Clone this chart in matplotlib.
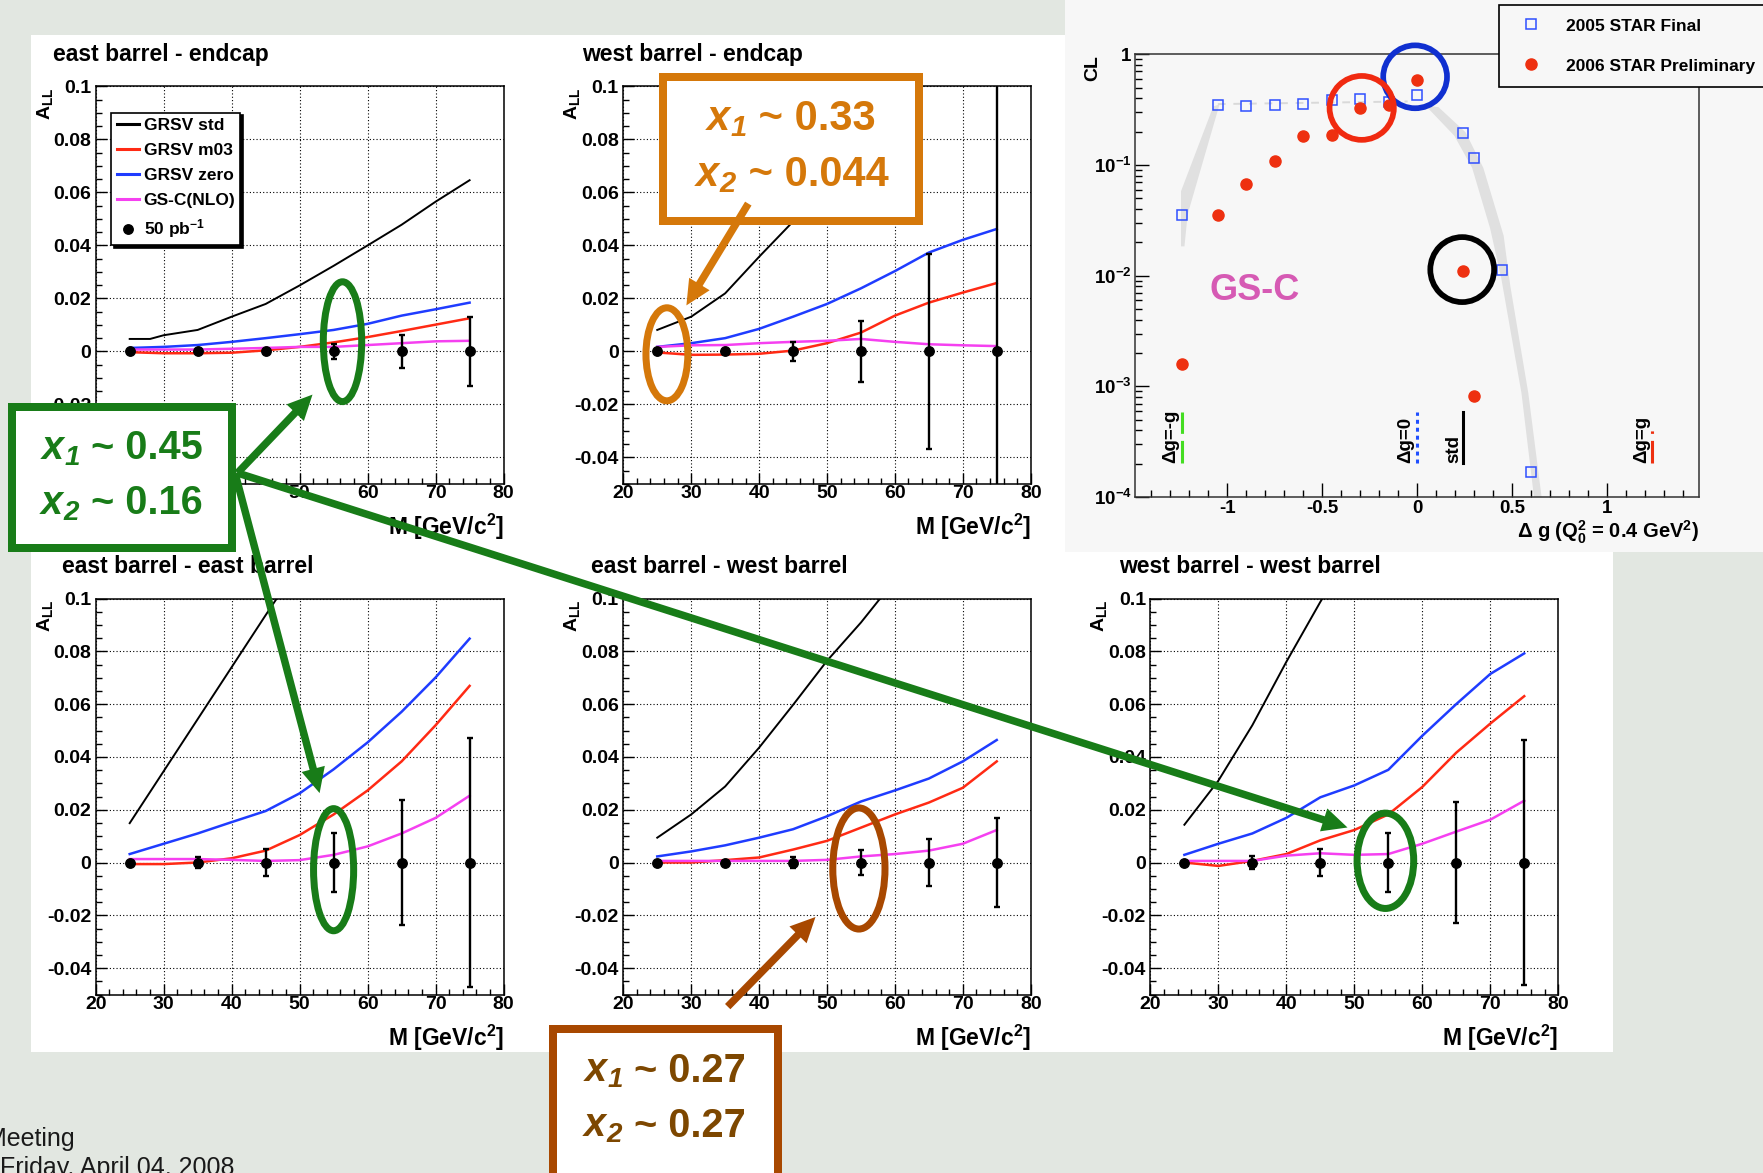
import matplotlib
matplotlib.use("Agg")
import numpy as np
import matplotlib.pyplot as plt
from matplotlib.patches import Rectangle, Ellipse, Polygon
from matplotlib.lines import Line2D
from matplotlib.ticker import MultipleLocator, FixedLocator, FixedFormatter, FuncFormatter, LogLocator, NullFormatter

plt.rcParams["font.family"] = ["Liberation Sans", "DejaVu Sans"]
plt.rcParams["font.weight"] = "bold"
plt.rcParams["mathtext.default"] = "regular"

# ---------------- data: A_LL vs di-jet invariant mass ----------------
M_BINS = [25, 35, 45, 55, 65, 75]
A_LL_MEAS = [0, 0, 0, 0, 0, 0]
M_THEORY = [25, 30, 35, 40, 45, 50, 55, 60, 65, 70, 75]

ALL_TICKS = [-0.04, -0.02, 0, 0.02, 0.04, 0.06, 0.08, 0.1]
ALL_TICK_LABELS = ["-0.04", "-0.02", "0", "0.02", "0.04", "0.06", "0.08", "0.1"]
M_TICKS = [20, 30, 40, 50, 60, 70, 80]
M_TICK_LABELS = ["20", "30", "40", "50", "60", "70", "80"]

SERIES_LABELS = ["GRSV std", "GRSV m03", "GRSV zero", "GS-C(NLO)"]
DATA_LABEL = "50 pb$^{-1}$"

# east barrel - endcap
EBEC_ERR = [0.0, 0.0, 0.0, 0.0027, 0.0062, 0.013]
EBEC_STD_M = [25, 28, 30, 35, 40, 45, 50, 55, 60, 65, 70, 75]
EBEC_STD = [0.0047, 0.0047, 0.0061, 0.0081, 0.0131, 0.0179, 0.0249, 0.0323, 0.0400, 0.0478, 0.0565, 0.0646]
EBEC_M03 = [-0.0003, -0.0007, -0.0007, -0.0005, 0.0004, 0.0017, 0.0034, 0.0054, 0.0077, 0.0101, 0.0125]
EBEC_ZERO = [0.0013, 0.0017, 0.0024, 0.0036, 0.0050, 0.0065, 0.0081, 0.0104, 0.0135, 0.0159, 0.0184]
EBEC_GSC = [0.0007, 0.0007, 0.0007, 0.0010, 0.0013, 0.0017, 0.0017, 0.0024, 0.0031, 0.0038, 0.0040]

# west barrel - endcap
WBEC_ERR = [0.0, 0.0, 0.0037, 0.0116, 0.0367, 0.11]
WBEC_STD_M = [25, 30, 35, 40, 45, 50, 55, 60]
WBEC_STD = [0.0081, 0.0131, 0.0219, 0.0357, 0.049, 0.064, 0.080, 0.098]
WBEC_M03 = [-0.0004, -0.0013, -0.0012, -0.0009, 0.0003, 0.0031, 0.0071, 0.0135, 0.0184, 0.0222, 0.0258]
WBEC_ZERO = [0.0017, 0.0031, 0.0050, 0.0085, 0.0131, 0.0179, 0.0238, 0.0303, 0.0373, 0.0421, 0.0462]
WBEC_GSC = [0.0017, 0.0023, 0.0024, 0.0031, 0.0036, 0.0040, 0.0047, 0.0036, 0.0027, 0.0023, 0.0020]

# east barrel - east barrel
EBEB_ERR = [0.0, 0.002, 0.005, 0.011, 0.0237, 0.0473]
EBEB_STD_M = [25, 30, 35, 40, 45, 50]
EBEB_STD = [0.0149, 0.0346, 0.0543, 0.0740, 0.0937, 0.113]
EBEB_M03 = [-0.0006, -0.0006, 0.0, 0.0016, 0.0045, 0.0104, 0.0182, 0.0273, 0.0383, 0.0520, 0.0669]
EBEB_ZERO = [0.0032, 0.0071, 0.0110, 0.0153, 0.0195, 0.0262, 0.0353, 0.0455, 0.0571, 0.0701, 0.0848]
EBEB_GSC = [0.0013, 0.0013, 0.0013, 0.0010, 0.0006, 0.0009, 0.0029, 0.0061, 0.0110, 0.0169, 0.0253]

# east barrel - west barrel
EBWB_ERR = [0.0, 0.0, 0.0022, 0.0047, 0.009, 0.0168]
EBWB_STD_M = [25, 30, 35, 40, 45, 50, 55, 60]
EBWB_STD = [0.0094, 0.0182, 0.0288, 0.0435, 0.0597, 0.0764, 0.0909, 0.107]
EBWB_M03 = [0.0, 0.0, 0.0009, 0.0019, 0.0049, 0.0082, 0.0132, 0.0182, 0.0227, 0.0283, 0.0383]
EBWB_ZERO = [0.0023, 0.0042, 0.0065, 0.0094, 0.0126, 0.0175, 0.0231, 0.0273, 0.0318, 0.0383, 0.0464]
EBWB_GSC = [0.0006, 0.0006, 0.0006, 0.0006, 0.0006, 0.0010, 0.0023, 0.0032, 0.0045, 0.0071, 0.0123]

# west barrel - west barrel
WBWB_ERR = [0.0, 0.0025, 0.005, 0.011, 0.023, 0.0465]
WBWB_STD_M = [25, 30, 35, 40, 45, 50]
WBWB_STD = [0.0143, 0.031, 0.052, 0.076, 0.0987, 0.12]
WBWB_M03 = [0.0, -0.0013, 0.0006, 0.0032, 0.0084, 0.0123, 0.0182, 0.0286, 0.0416, 0.0526, 0.0630]
WBWB_ZERO = [0.0029, 0.0071, 0.0110, 0.0169, 0.0247, 0.0292, 0.0351, 0.0480, 0.0600, 0.0714, 0.0792]
WBWB_GSC = [0.0006, 0.0006, 0.0006, 0.0026, 0.0035, 0.0029, 0.0032, 0.0071, 0.0117, 0.0162, 0.0234]

# ---------------- data: confidence level vs Delta g ----------------
DG_2005 = [-1.24, -1.05, -0.9, -0.75, -0.6, -0.45, -0.3, -0.15, 0.0, 0.24, 0.3, 0.45, 0.6]
CL_2005 = [0.0353, 0.351, 0.340, 0.351, 0.359, 0.386, 0.395, 0.37, 0.426, 0.195, 0.116, 0.0113, 1.7e-4]
DG_2006 = [-1.24, -1.05, -0.9, -0.75, -0.6, -0.45, -0.3, -0.15, 0.0, 0.24, 0.3]
CL_2006 = [1.58e-3, 0.0353, 0.067, 0.109, 0.184, 0.188, 0.326, 0.346, 0.586, 0.0111, 8.2e-4]
CL_LEGEND = ["2005 STAR Final", "2006 STAR Preliminary"]

BAND_LEFT_DG = [-1.244, -1.244, -1.074, -1.041, -1.209, -1.226]
BAND_LEFT_CL = [0.0184, 0.058, 0.338, 0.353, 0.0359, 0.0184]
BAND_RIGHT_DG = [0.043, 0.196, 0.290, 0.385, 0.444, 0.550, 0.616, 0.656, 0.586, 0.491, 0.456, 0.349, 0.255, 0.113]
BAND_RIGHT_CL = [0.346, 0.184, 0.0942, 0.0267, 0.0094, 8.7e-4, 1e-4, 1e-4, 8.7e-4, 0.0081, 0.023, 0.0942, 0.198, 0.333]
BAND_TOP_DG = [-1.05, -0.05]
BAND_TOP_CL = [0.355, 0.375]

DG_MARKS = [-1.24, 0.0, 0.24, 1.24]
DG_MARK_LABELS = ["\u0394g=-g", "\u0394g=0", "std", "\u0394g=g"]
MARK_CL_RANGE = [2.04e-4, 5.9e-4]

CL_YTICKS = [1e-4, 1e-3, 1e-2, 1e-1, 1]
CL_YTICK_LABELS = ["$10^{-4}$", "$10^{-3}$", "$10^{-2}$", "$10^{-1}$", "1"]

# callout texts: (italic variable part, upright value part)
CALLOUT_GREEN = [("x$_1$", " ~ 0.45"), ("x$_2$", " ~ 0.16")]
CALLOUT_ORANGE = [("x$_1$", " ~ 0.33"), ("x$_2$", " ~ 0.044")]
CALLOUT_BROWN = [("x$_1$", " ~ 0.27"), ("x$_2$", " ~ 0.27")]

# ---------------- styling ----------------
W, H = 1763, 1173
PT = 0.72  # points per pixel at 100 dpi
C_STD, C_M03, C_ZERO, C_GSC = "black", "#ff2a14", "#1f3cff", "#f540f0"
LW_STD, LW_CURVE = 1.4, 1.8

fig = plt.figure(figsize=(W / 100, H / 100), dpi=100)
fig.patch.set_facecolor("#e2e7e1")


def frac(l, t, r, b):
    return [l / W, 1 - b / H, (r - l) / W, (b - t) / H]


# background layer (pixel coordinates, y downward)
bg = fig.add_axes([0, 0, 1, 1], zorder=0)
bg.set_xlim(0, W)
bg.set_ylim(H, 0)
bg.axis("off")
bg.add_patch(Rectangle((31, 35), 1065 - 31, 553 - 35, fc="white", ec="none"))
bg.add_patch(Rectangle((31, 552), 1613 - 31, 1052 - 552, fc="white", ec="none"))
bg.add_patch(Rectangle((1065, 0), W - 1065, 552, fc="#f7f7f7", ec="none"))

bg.text(75, 1146, "Meeting", ha="right", va="baseline", fontsize=18, weight="normal", color="#1a1a1a")
bg.text(234, 1175, "Friday, April 04, 2008", ha="right", va="baseline", fontsize=18, weight="normal", color="#1a1a1a")


def asym_panel(box, title_xy, title, std_m, std, m03, zero, gsc, err,
               with_legend=False, x_labels=M_TICK_LABELS, y_labels=ALL_TICK_LABELS):
    l, t, r, b = box
    ax = fig.add_axes(frac(l, t, r, b), zorder=2)
    ax.set_facecolor("white")
    h_std, = ax.plot(std_m, std, color=C_STD, lw=LW_STD)
    h_m03, = ax.plot(M_THEORY, m03, color=C_M03, lw=LW_CURVE)
    h_zero, = ax.plot(M_THEORY, zero, color=C_ZERO, lw=LW_CURVE)
    h_gsc, = ax.plot(M_THEORY, gsc, color=C_GSC, lw=LW_CURVE)
    ax.errorbar(M_BINS, A_LL_MEAS, yerr=err, fmt="o", color="k", ms=6.8,
                elinewidth=1.7, capsize=2.5, capthick=1.7, zorder=4)
    ax.set_xlim(20, 80)
    ax.set_ylim(-0.05, 0.1)
    ax.xaxis.set_major_locator(FixedLocator(M_TICKS))
    ax.xaxis.set_major_formatter(FixedFormatter(x_labels))
    ax.xaxis.set_minor_locator(MultipleLocator(2))
    ax.yaxis.set_major_locator(FixedLocator(ALL_TICKS))
    ax.yaxis.set_major_formatter(FixedFormatter(y_labels))
    ax.yaxis.set_minor_locator(MultipleLocator(0.005))
    ax.grid(True, which="major", color="k", lw=0.8, ls=(0, (1, 2)))
    ax.tick_params(which="both", direction="in", top=False, right=False, width=1.0, labelsize=14)
    ax.tick_params(which="major", length=8)
    ax.tick_params(which="minor", length=4)
    ax.tick_params(axis="y", pad=3.2)
    ax.tick_params(axis="x", pad=0.8)
    for s in ax.spines.values():
        s.set_linewidth(1.1)
    bg.text(title_xy[0], title_xy[1], title, fontsize=16.5, ha="left", va="baseline")
    bg.text(l - 51, t + 1, "A$_{LL}$", rotation=90, ha="center", va="top", fontsize=14)
    bg.text(r, b + 51, "M [GeV/c$^{2}$]", ha="right", va="baseline", fontsize=16.5)
    if with_legend:
        dot = Line2D([], [], ls="none", marker="o", color="k", ms=6.8)
        leg = ax.legend([h_std, h_m03, h_zero, h_gsc, dot], SERIES_LABELS + [DATA_LABEL],
                        loc="upper left", bbox_to_anchor=(0.0385, 0.934), borderaxespad=0,
                        fontsize=12.5, handlelength=1.3, handletextpad=0.25, borderpad=0.3,
                        labelspacing=0.56, fancybox=False, framealpha=1, edgecolor="black",
                        shadow={"facecolor": "black", "edgecolor": "black", "alpha": 1.0})
        leg.get_frame().set_linewidth(1.2)
        for hl in leg.get_lines():
            hl.set_linewidth(2.2)
    return ax


# tick labels at 20-40 and -0.04 of the first panel sit under the green callout box
asym_panel((95.7, 86.4, 503.6, 483.9), (53, 60.7), "east barrel - endcap",
           EBEC_STD_M, EBEC_STD, EBEC_M03, EBEC_ZERO, EBEC_GSC, EBEC_ERR, with_legend=True,
           x_labels=["", "", ""] + M_TICK_LABELS[3:], y_labels=[""] + ALL_TICK_LABELS[1:])
asym_panel((623.3, 86.4, 1030.7, 483.9), (582, 60.7), "west barrel - endcap",
           WBEC_STD_M, WBEC_STD, WBEC_M03, WBEC_ZERO, WBEC_GSC, WBEC_ERR)
asym_panel((95.7, 598.5, 503.6, 994.5), (62.5, 572.7), "east barrel - east barrel",
           EBEB_STD_M, EBEB_STD, EBEB_M03, EBEB_ZERO, EBEB_GSC, EBEB_ERR)
asym_panel((623.3, 598.5, 1030.7, 994.5), (591, 572.7), "east barrel - west barrel",
           EBWB_STD_M, EBWB_STD, EBWB_M03, EBWB_ZERO, EBWB_GSC, EBWB_ERR)
asym_panel((1150.4, 598.5, 1558.2, 994.5), (1119, 572.7), "west barrel - west barrel",
           WBWB_STD_M, WBWB_STD, WBWB_M03, WBWB_ZERO, WBWB_GSC, WBWB_ERR)

# ---------------- CL panel ----------------
cl = fig.add_axes(frac(1135.3, 54.3, 1698.9, 497.1), zorder=2)
cl.set_facecolor("#f7f7f7")
cl.set_yscale("log")
cl.set_xlim(-1.485, 1.485)
cl.set_ylim(1e-4, 1)
cl.fill(BAND_LEFT_DG, BAND_LEFT_CL, color="#e0e0e0", lw=0, zorder=1)
cl.fill(BAND_RIGHT_DG, BAND_RIGHT_CL, color="#e0e0e0", lw=0, zorder=1)
cl.plot(BAND_TOP_DG, BAND_TOP_CL, color="#d9d9d9", lw=1.4, ls=(0, (4, 4)), zorder=1)
h05, = cl.plot(DG_2005, CL_2005, ls="none", marker="s", mfc="none", mec="#2f4fff", ms=7, mew=1.1, zorder=3)
h06, = cl.plot(DG_2006, CL_2006, ls="none", marker="o", color="#ee3010", ms=8, zorder=4)

mark_styles = [dict(color="#44dd22", ls=(0, (7.4, 2.3))),
               dict(color="#1f4fff", ls=(0, (1.3, 1.3))),
               dict(color="black", ls="-"),
               dict(color="#ee3010", ls=(0, (7.4, 2.3, 0.8, 10)))]
mark_offsets = [7.6, 8.0, 6.5, 7.8]
for dg, lab, sty, off in zip(DG_MARKS, DG_MARK_LABELS, mark_styles, mark_offsets):
    cl.plot([dg, dg], MARK_CL_RANGE, lw=2.2, zorder=2, **sty)
    cl.annotate(lab, xy=(dg, MARK_CL_RANGE[0]), xytext=(-off, 0), textcoords="offset points",
                rotation=90, ha="center", va="bottom", fontsize=13.5)

cl.xaxis.set_major_locator(MultipleLocator(0.5))
cl.xaxis.set_minor_locator(MultipleLocator(0.1))
cl.xaxis.set_major_formatter(FuncFormatter(lambda v, p: "0" if abs(v) < 1e-9 else f"{v:g}"))
cl.yaxis.set_major_locator(FixedLocator(CL_YTICKS))
cl.yaxis.set_major_formatter(FixedFormatter(CL_YTICK_LABELS))
cl.yaxis.set_minor_locator(LogLocator(base=10, subs=np.arange(2, 10)))
cl.yaxis.set_minor_formatter(NullFormatter())
cl.tick_params(which="both", direction="in", top=False, right=False, width=1.0, labelsize=13.5)
cl.tick_params(which="major", length=10)
cl.tick_params(which="minor", length=5)
cl.tick_params(axis="x", pad=2.4)
cl.tick_params(axis="y", pad=2.6)
for s in cl.spines.values():
    s.set_linewidth(1.1)
    s.set_color("#333333")

bg.text(1092.5, 55.4, "CL", rotation=90, ha="center", va="top", fontsize=14)
bg.text(1698.9, 538.6, "\u0394 g (Q$_0^2$ = 0.4 GeV$^2$)", ha="right", va="baseline", fontsize=14.5)

cleg = cl.legend([h05, h06], CL_LEGEND, loc="upper left",
                 bbox_to_anchor=(1498.5 / W, 1 - 5.4 / H), bbox_transform=fig.transFigure,
                 borderaxespad=0, fontsize=12.5, handlelength=2.3, handletextpad=0.85,
                 borderpad=0.75, labelspacing=1.43, fancybox=False, framealpha=1,
                 edgecolor="black", facecolor="#f7f7f7")
cleg.get_frame().set_linewidth(1.2)

# ---------------- callout layer ----------------
ov = fig.add_axes([0, 0, 1, 1], zorder=10)
ov.set_xlim(0, W)
ov.set_ylim(H, 0)
ov.axis("off")
ov.patch.set_alpha(0)

GREEN = "#187c18"
ORANGE = "#d5780a"
BROWN_BOX = "#a84800"
BROWN_TXT = "#7d4700"


def arrow(tail, tip, color, lw_px=7.5, head_len=25, head_half=12):
    tail = np.asarray(tail, float)
    tip = np.asarray(tip, float)
    d = tip - tail
    u = d / np.hypot(*d)
    n = np.array([-u[1], u[0]])
    base = tip - u * head_len
    ov.plot([tail[0], base[0] + u[0] * 2], [tail[1], base[1] + u[1] * 2], color=color,
            lw=lw_px * PT, solid_capstyle="butt")
    ov.add_patch(Polygon([tip, base + n * head_half, base - n * head_half], closed=True,
                         fc=color, ec="none"))


def box(x0, y0, x1, y1, color, lw_px=8):
    ov.add_patch(Rectangle((x0 + lw_px / 2, y0 + lw_px / 2), x1 - x0 - lw_px, y1 - y0 - lw_px,
                           fc="white", ec=color, lw=lw_px * PT, joinstyle="miter"))


def ring(cx, cy, w, h, color, lw_px=7):
    ov.add_patch(Ellipse((cx, cy), w - lw_px, h - lw_px, fill=False, ec=color, lw=lw_px * PT))


def callout_text(lines, split_x, baselines, color, size):
    for (var, val), split, base in zip(lines, split_x, baselines):
        ov.text(split, base, var, ha="right", va="baseline", fontsize=size,
                weight="bold", style="italic", color=color)
        ov.text(split, base, val, ha="left", va="baseline", fontsize=size,
                weight="bold", color=color)


# green callout
box(8, 403, 236, 552, GREEN)
callout_text(CALLOUT_GREEN, [80, 80], [459, 514], GREEN, 28.5)
ring(342.5, 341.7, 45.4, 126.8, GREEN)
ring(333.6, 869.7, 47.1, 129.1, GREEN)
ring(1385.4, 860.8, 63.6, 102.3, GREEN)
arrow((237.5, 473), (312.5, 394.6), GREEN)
arrow((235, 473), (319.6, 793.1), GREEN)
arrow((237.5, 473), (1347.5, 827.5), GREEN)

# orange callout
box(658.8, 73.2, 923.3, 225, ORANGE)
callout_text(CALLOUT_ORANGE, [747, 737], [130.4, 186.4], ORANGE, 30)
ring(666.9, 354.3, 48.9, 100, ORANGE)
arrow((748.3, 203.6), (686.4, 305.4), ORANGE)

# brown callout
box(549.3, 1025, 781.7, 1200, BROWN_BOX)
callout_text(CALLOUT_BROWN, [623, 623], [1081.7, 1136.7], BROWN_TXT, 28.5)
ring(858.9, 868.5, 59.2, 128.1, BROWN_BOX)
arrow((727.7, 1006.6), (815.5, 917), BROWN_BOX)

# rings on the CL plot
ring(1415.1, 76.8, 69.5, 68.6, "#1030d0", lw_px=5.7)
ring(1361.7, 107.9, 70, 69.6, "#f02a10", lw_px=5.7)
ring(1462.2, 269.6, 69.5, 70.7, "black", lw_px=5.7)
ov.text(1255, 300.5, "GS-C", fontsize=26, color="#d65ab4", ha="center", va="baseline")

fig.savefig("out.png", dpi=100, facecolor=fig.get_facecolor())
